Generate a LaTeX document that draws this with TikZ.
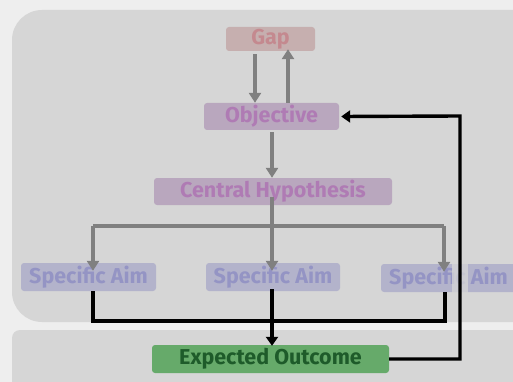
\documentclass[tikz,border=0pt]{standalone}
\usepackage{fontspec}
\setmainfont{Fira Sans}
\usetikzlibrary{arrows.meta}

\definecolor{bgcol}{HTML}{EEEEEE}
\definecolor{panelcol}{HTML}{D6D6D6}
\definecolor{gapfill}{HTML}{C6AFAF}
\definecolor{gaptext}{HTML}{C4898F}
\definecolor{objfill}{HTML}{B9A7BE}
\definecolor{objtext}{HTML}{AF7BB4}
\definecolor{aimfill}{HTML}{B3B3CB}
\definecolor{aimtext}{HTML}{9494C4}
\definecolor{outfill}{HTML}{66AA6A}
\definecolor{outtext}{HTML}{1E5B2A}
\definecolor{arrgray}{HTML}{808080}

\tikzset{
  box/.style={rounded corners=3pt, inner sep=0pt, font=\bfseries\fontsize{21.5}{22}\selectfont},
  greyarrow/.style={draw=arrgray, line width=3.4pt, -{Triangle[width=12pt,length=10pt]}},
  greyline/.style={draw=arrgray, line width=3.4pt},
  blackarrow/.style={draw=black, line width=3.4pt, -{Triangle[width=12pt,length=9pt]}},
  blackline/.style={draw=black, line width=3.4pt}
}

\begin{document}
\begin{tikzpicture}[x=1pt, y=-1pt]

   % background and panels
   \fill[bgcol] (0,0) rectangle (513,382);
   \useasboundingbox (0,0) rectangle (513,382);
   \fill[panelcol, rounded corners=30pt] (12,10) rectangle (560,322);
   \fill[panelcol, rounded corners=8pt] (12,330) rectangle (560,400);

   % boxes
   \node[box, fill=gapfill, text=gaptext, minimum width=89pt, minimum height=24pt] (gap) at (270.5,39) {Gap};
   \node[box, fill=objfill, text=objtext, minimum width=135pt, minimum height=27pt] (obj) at (271.5,116.5) {Objective};
   \node[box, fill=objfill, text=objtext, minimum width=238pt, minimum height=27pt] (hyp) at (273,191.5) {Central Hypothesis};
   \node[box, fill=aimfill, text=aimtext, minimum width=135pt, minimum height=28pt] (aimA) at (88.5,277) {Specific Aim};
   \node[box, fill=aimfill, text=aimtext, minimum width=134pt, minimum height=28pt] (aimB) at (273,277) {Specific Aim};
   \node[box, fill=aimfill, text=aimtext, minimum width=135pt, minimum height=28pt] (aimC) at (448.5,278) {Specific Aim};
   \node[box, fill=outfill, text=outtext, minimum width=237pt, minimum height=28pt] (out) at (270.5,359) {Expected Outcome};

   % junction points
   \coordinate (split) at (272,226);
   \coordinate (joinA) at (93,321);
   \coordinate (joinC) at (445,321);
   \coordinate (loopB) at (460,359);
   \coordinate (loopT) at (460,116);

   % grey arrows
   \draw[greyarrow] (gap.south -| 255,0) ++(0,3) -- (obj.north -| 255,0);
   \draw[greyarrow] (obj.north -| 288,0) -- ([yshift=2pt]gap.south -| 288,0);
   \draw[greyarrow] (obj.south -| 272,0) ++(0,2) -- (hyp.north -| 272,0);
   \draw[greyline] ([yshift=8pt]hyp.south -| split) -- (split);
   \draw[greyline] (split -| 93,0) -- (split -| 444,0);
   \draw[greyarrow] (split -| 93,0) -- ([yshift=-8pt]aimA.north -| 93,0);
   \draw[greyarrow] (split) -- ([yshift=-8pt]aimB.north -| 272,0);
   \draw[greyarrow] (split -| 444,0) -- ([yshift=-8pt]aimC.north -| 444,0);

   % faint strip over the right aim
   \fill[panelcol, opacity=0.75] (452,255) rectangle (468,300);

   % black arrows
   \draw[blackline] (aimA.south -| joinA) -- (joinA) -- (joinC) -- (aimC.south -| joinC);
   \draw[blackarrow] ([yshift=2pt]aimB.south -| 272,0) -- ([yshift=-1pt]out.north -| 272,0);
   \draw[blackarrow] (out.east) -- (loopB) -- (loopT) -- ([xshift=2pt]obj.east);

\end{tikzpicture}
\end{document}
